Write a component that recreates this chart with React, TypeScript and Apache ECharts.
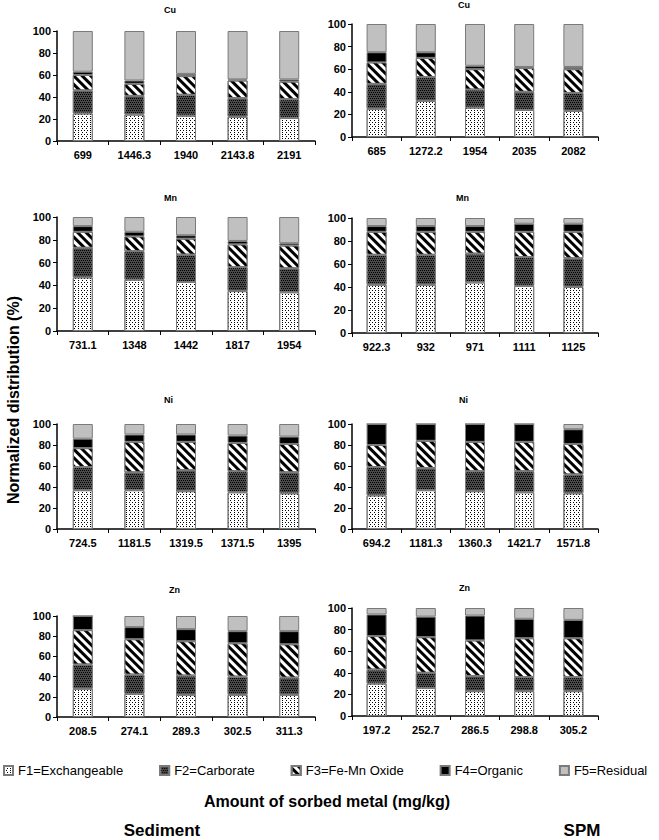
import React, { useEffect, useRef } from "react";
import * as echarts from "echarts";

const fractionNames = ["F1=Exchangeable", "F2=Carborate", "F3=Fe-Mn Oxide", "F4=Organic", "F5=Residual"];

const cuSedimentCats = ["699", "1446.3", "1940", "2143.8", "2191"];
const cuSediment = [
  [25, 24, 23, 22, 21],
  [21, 17, 19, 17, 17],
  [14, 11, 17, 16, 16],
  [3, 3, 2, 1, 2],
  [37, 45, 39, 44, 44],
];
const cuSpmCats = ["685", "1272.2", "1954", "2035", "2082"];
const cuSpm = [
  [25, 32, 26, 24, 23],
  [22, 21, 16, 16, 16],
  [19, 17, 18, 21, 21],
  [9, 5, 3, 1, 2],
  [25, 25, 37, 38, 38],
];
const mnSedimentCats = ["731.1", "1348", "1442", "1817", "1954"];
const mnSediment = [
  [47, 45, 43, 35, 34],
  [26, 25, 24, 21, 21],
  [14, 13, 14, 20, 20],
  [5, 4, 3, 3, 2],
  [8, 13, 16, 21, 23],
];
const mnSpmCats = ["922.3", "932", "971", "1111", "1125"];
const mnSpm = [
  [42, 42, 44, 41, 40],
  [26, 26, 25, 25, 25],
  [20, 20, 19, 22, 23],
  [5, 5, 5, 7, 7],
  [7, 7, 7, 5, 5],
];
const niSedimentCats = ["724.5", "1181.5", "1319.5", "1371.5", "1395"];
const niSediment = [
  [37, 37, 36, 35, 34],
  [22, 17, 20, 20, 20],
  [18, 29, 27, 27, 27],
  [9, 7, 7, 7, 7],
  [14, 10, 10, 11, 12],
];
const niSpmCats = ["694.2", "1181.3", "1360.3", "1421.7", "1571.8"];
const niSpm = [
  [32, 37, 36, 35, 34],
  [27, 21, 19, 20, 18],
  [21, 26, 28, 28, 29],
  [20, 16, 17, 17, 14],
  [0, 0, 0, 0, 5],
];
const znSedimentCats = ["208.5", "274.1", "289.3", "302.5", "311.3"];
const znSediment = [
  [28, 23, 22, 22, 22],
  [24, 19, 19, 18, 17],
  [34, 35, 34, 33, 33],
  [14, 12, 12, 12, 13],
  [0, 11, 13, 15, 15],
];
const znSpmCats = ["197.2", "252.7", "286.5", "298.8", "305.2"];
const znSpm = [
  [30, 26, 23, 23, 23],
  [13, 14, 14, 13, 13],
  [31, 33, 33, 36, 36],
  [20, 19, 23, 18, 17],
  [6, 8, 7, 10, 11],
];

const FONT = "'Liberation Sans', Arial, sans-serif";

const panels = [
  { title: "Cu", cats: cuSedimentCats, values: cuSediment, left: 57, top: 31, width: 258, height: 110, tx: 172, ty: 10 },
  { title: "Cu", cats: cuSpmCats, values: cuSpm, left: 352, top: 24, width: 246, height: 113, tx: 466, ty: 5 },
  { title: "Mn", cats: mnSedimentCats, values: mnSediment, left: 57, top: 217, width: 258, height: 114, tx: 172, ty: 198 },
  { title: "Mn", cats: mnSpmCats, values: mnSpm, left: 352, top: 218, width: 246, height: 115, tx: 464, ty: 198 },
  { title: "Ni", cats: niSedimentCats, values: niSediment, left: 57, top: 424, width: 258, height: 105, tx: 172, ty: 400 },
  { title: "Ni", cats: niSpmCats, values: niSpm, left: 352, top: 424, width: 246, height: 105, tx: 467, ty: 400 },
  { title: "Zn", cats: znSedimentCats, values: znSediment, left: 57, top: 616, width: 258, height: 101, tx: 177, ty: 590 },
  { title: "Zn", cats: znSpmCats, values: znSpm, left: 352, top: 608, width: 246, height: 108, tx: 467, ty: 588 },
];

const fractionStyles: any[] = [
  {
    color: "#ffffff",
    decal: { symbol: "rect", symbolSize: 1, color: "#000000", dashArrayX: [[1, 2], [0, 1.5, 1, 0.5]], dashArrayY: [1, 1] },
  },
  {
    color: "#4a4a4a",
    decal: { symbol: "rect", symbolSize: 1, color: "#000000", dashArrayX: [[1, 1], [0, 1, 1, 0]], dashArrayY: [1, 1] },
  },
  {
    color: "#ffffff",
    decal: { symbol: "rect", symbolSize: 1, color: "#000000", dashArrayX: [1, 0], dashArrayY: [3, 3], rotation: Math.PI / 4 },
  },
  { color: "#000000" },
  { color: "#c0c0c0" },
];

export default function App() {
  const ref = useRef<HTMLDivElement>(null);
  useEffect(() => {
    if (!ref.current) return;
    const chart = echarts.init(ref.current, null, { renderer: "svg" });
    const grid: any[] = [];
    const xAxis: any[] = [];
    const yAxis: any[] = [];
    const series: any[] = [];
    const graphic: any[] = [];
    panels.forEach((p, i) => {
      grid.push({ left: p.left, top: p.top, width: p.width, height: p.height });
      xAxis.push({
        type: "category",
        gridIndex: i,
        data: p.cats,
        axisLine: { lineStyle: { color: "#000", width: 1.5 } },
        axisTick: { show: true, length: 4, lineStyle: { color: "#000", width: 1 } },
        axisLabel: { color: "#000", fontWeight: "bold", fontSize: 11, fontFamily: FONT, margin: 8, interval: 0 },
      });
      yAxis.push({
        type: "value",
        gridIndex: i,
        min: 0,
        max: 100,
        interval: 20,
        axisLine: { show: true, lineStyle: { color: "#000", width: 1.5 } },
        axisTick: { show: true, length: 4, lineStyle: { color: "#000" } },
        splitLine: { show: false },
        axisLabel: { color: "#000", fontWeight: "bold", fontSize: 11, fontFamily: FONT, margin: 6 },
      });
      p.values.forEach((vals, f) => {
        series.push({
          type: "bar",
          name: fractionNames[f],
          xAxisIndex: i,
          yAxisIndex: i,
          stack: "s" + i,
          barWidth: 20,
          data: vals,
          itemStyle: { ...fractionStyles[f], borderColor: "#7a7a7a", borderWidth: 1 },
          emphasis: { disabled: true },
        });
      });
      graphic.push({
        type: "text",
        left: p.tx - 8,
        top: p.ty - 5,
        style: { text: p.title, font: `bold 9px ${FONT}`, fill: "#000" },
      });
    });
    graphic.push(
      {
        type: "text",
        x: 13,
        y: 400,
        rotation: Math.PI / 2,
        style: {
          text: "Normalized distribution (%)",
          font: `bold 16px ${FONT}`,
          fill: "#000",
          align: "center",
          verticalAlign: "middle",
        },
      },
      {
        type: "text",
        x: 327,
        y: 801,
        style: { text: "Amount of sorbed metal (mg/kg)", font: `bold 16px ${FONT}`, fill: "#000", align: "center", verticalAlign: "middle" },
      },
      {
        type: "text",
        x: 162,
        y: 830,
        style: { text: "Sediment", font: `bold 17px ${FONT}`, fill: "#000", align: "center", verticalAlign: "middle" },
      },
      {
        type: "text",
        x: 582,
        y: 830,
        style: { text: "SPM", font: `bold 17px ${FONT}`, fill: "#000", align: "center", verticalAlign: "middle" },
      }
    );
    chart.setOption({
      animation: false,
      backgroundColor: "#ffffff",
      grid,
      xAxis,
      yAxis,
      series,
      graphic,
      legend: {
        data: fractionNames,
        left: 3,
        top: 764,
        width: 800,
        padding: 0,
        itemWidth: 9,
        itemHeight: 9,
        itemGap: 36,
        icon: "rect",
        textStyle: { fontSize: 13, fontFamily: FONT, color: "#000" },
        selectedMode: false,
      },
    });
    return () => chart.dispose();
  }, []);
  return <div ref={ref} style={{ position: "fixed", left: 0, top: 0, width: 659, height: 840 }} />;
}
